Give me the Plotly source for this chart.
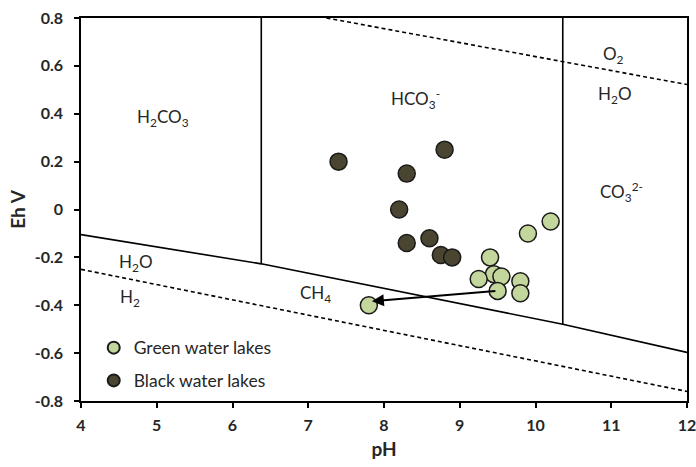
import plotly.graph_objects as go

# ---- data ----
green_ph = [10.2, 9.9, 9.4, 9.45, 9.55, 9.25, 9.5, 9.8, 9.8, 7.8]
green_eh = [-0.05, -0.10, -0.20, -0.27, -0.28, -0.29, -0.34, -0.30, -0.35, -0.40]

black_ph = [7.4, 8.8, 8.3, 8.2, 8.3, 8.6, 8.75, 8.9]
black_eh = [0.20, 0.25, 0.15, 0.00, -0.14, -0.12, -0.19, -0.20]

# boundary lines
o2_ph = [7.24, 12.0]
o2_eh = [0.80, 0.522]
h2_ph = [4.0, 12.0]
h2_eh = [-0.25, -0.76]
ch4_ph = [4.0, 6.38, 10.36, 12.0]
ch4_eh = [-0.105, -0.227, -0.479, -0.597]
v1_ph = [6.38, 6.38]
v1_eh = [-0.227, 0.80]
v2_ph = [10.36, 10.36]
v2_eh = [-0.479, 0.80]

arrow_from = (9.49, -0.34)
arrow_to = (7.84, -0.383)

x_ticks = [4, 5, 6, 7, 8, 9, 10, 11, 12]
x_labels = ["4", "5", "6", "7", "8", "9", "10", "11", "12"]
y_ticks = [-0.8, -0.6, -0.4, -0.2, 0, 0.2, 0.4, 0.6, 0.8]
y_labels = ["-0.8", "-0.6", "-0.4", "-0.2", "0", "0.2", "0.4", "0.6", "0.8"]

labels = [
    (5.08, 0.382, "H<sub>2</sub>CO<sub>3</sub>"),
    (8.41, 0.46, "HCO<sub>3</sub><sup>-</sup>"),
    (11.03, 0.647, "O<sub>2</sub>"),
    (11.05, 0.48, "H<sub>2</sub>O"),
    (11.14, 0.072, "CO<sub>3</sub><sup>2-</sup>"),
    (4.73, -0.223, "H<sub>2</sub>O"),
    (4.65, -0.37, "H<sub>2</sub>"),
    (7.09, -0.355, "CH<sub>4</sub>"),
]

FONT = "Lato"
TXT = "#262626"

fig = go.Figure()

def line(xs, ys, dash="solid"):
    fig.add_trace(go.Scatter(x=xs, y=ys, mode="lines", showlegend=False, hoverinfo="skip",
                             line=dict(color="black", width=1.6, dash=dash)))

line(o2_ph, o2_eh, "4px,3px")
line(h2_ph, h2_eh, "4px,3px")
line(ch4_ph, ch4_eh)
line(v1_ph, v1_eh)
line(v2_ph, v2_eh)

fig.add_trace(go.Scatter(x=black_ph, y=black_eh, mode="markers", name="Black water lakes",
                         legendgroup="b", legendrank=2,
                         marker=dict(size=17, color="#4a4530", line=dict(color="#1a1a1a", width=1.5))))
fig.add_trace(go.Scatter(x=green_ph, y=green_eh, mode="markers", name="Green water lakes",
                         legendgroup="g", legendrank=1,
                         marker=dict(size=17, color="#c3d69b", line=dict(color="#1a1a1a", width=1.5))))

for x, y, t in labels:
    fig.add_annotation(x=x, y=y, text=t, showarrow=False, xref="x", yref="y",
                       font=dict(family=FONT, size=17, color=TXT))

fig.add_annotation(x=arrow_to[0], y=arrow_to[1], ax=arrow_from[0], ay=arrow_from[1],
                   xref="x", yref="y", axref="x", ayref="y", text="",
                   showarrow=True, arrowhead=2, arrowsize=1.2, arrowwidth=2, arrowcolor="black")

axis_common = dict(showgrid=False, zeroline=False, showline=True, linecolor="black", linewidth=1.5,
                   mirror=True, ticks="outside", ticklen=5, tickwidth=1.5, tickcolor="black",
                   tickmode="array", automargin=False, ticklabeloverflow="allow",
                   tickfont=dict(family=FONT, size=16, color=TXT, weight="bold"))

fig.update_layout(
    width=696, height=467,
    margin=dict(l=81, r=9, t=18, b=66),
    paper_bgcolor="white", plot_bgcolor="white",
    font=dict(family=FONT, color=TXT),
    xaxis=dict(range=[4, 12], tickvals=x_ticks, ticktext=x_labels, ticklabelstandoff=4,
               title=dict(text="pH", font=dict(family=FONT, size=19, color=TXT, weight="bold"), standoff=10),
               **axis_common),
    yaxis=dict(range=[-0.8, 0.8], tickvals=y_ticks, ticktext=y_labels, ticklabelstandoff=8,
               title=dict(text="Eh V", font=dict(family=FONT, size=19, color=TXT, weight="bold"), standoff=4),
               **axis_common),
    legend=dict(x=0.021, y=0.186, xanchor="left", yanchor="top", bgcolor="rgba(0,0,0,0)",
                font=dict(family=FONT, size=17.5, color=TXT), itemsizing="constant",
                traceorder="grouped", tracegroupgap=7),
)

fig.write_html("out.html", config={"displayModeBar": False},
               post_script="document.body.style.margin='0';")
